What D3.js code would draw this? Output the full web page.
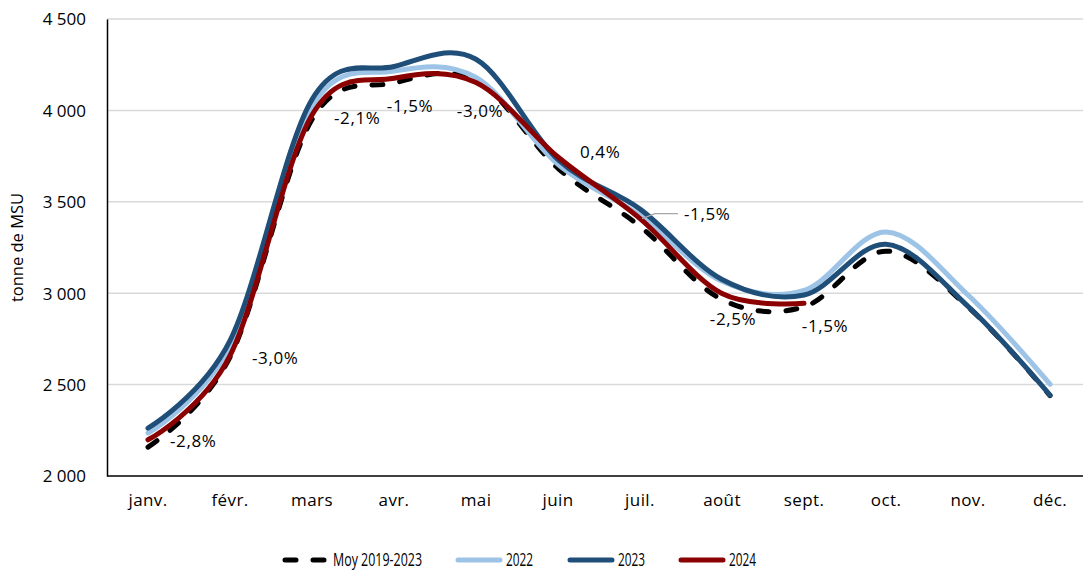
<!DOCTYPE html>
<html>
<head>
<meta charset="utf-8">
<script src="https://cdn.jsdelivr.net/npm/d3@7"></script>
<style>
  body { margin: 0; background: #fff; }
  text { font-family: "Open Sans", Lato, sans-serif; fill: #000; }
</style>
</head>
<body>
<script>
var width = 1083;
var height = 572;

var months = ['janv.', 'févr.', 'mars', 'avr.', 'mai', 'juin', 'juil.', 'août', 'sept.', 'oct.', 'nov.', 'déc.'];
var avg1923 = [2158, 2650, 3950, 4150, 4165, 3683, 3366, 2965, 2925, 3230, 2925, 2440];
var y2022 = [2235, 2710, 4020, 4215, 4180, 3705, 3425, 3065, 3015, 3335, 2990, 2502];
var y2023 = [2262, 2740, 4060, 4240, 4280, 3730, 3460, 3075, 2990, 3268, 2928, 2443];
var y2024 = [2198, 2658, 3975, 4176, 4152, 3745, 3408, 2998, 2945];
var pctLabels = ['-2,8%', '-3,0%', '-2,1%', '-1,5%', '-3,0%', '0,4%', '-1,5%', '-2,5%', '-1,5%'];
var yTicks = [2000, 2500, 3000, 3500, 4000, 4500];

var series = [
  { name: 'Moy 2019-2023', values: avg1923, color: '#000000', dash: '11,17' },
  { name: '2022', values: y2022, color: '#9dc3e6', dash: null },
  { name: '2023', values: y2023, color: '#1f4e79', dash: null },
  { name: '2024', values: y2024, color: '#8b0000', dash: null }
];

var margin = { left: 107, top: 19, bottom: 96 };
var plotRight = 1091;

var svg = d3.select('body').append('svg')
  .attr('width', width)
  .attr('height', height);

var x = d3.scaleBand().domain(months).range([margin.left, plotRight]);
var cx = function(m) { return x(m) + x.bandwidth() / 2; };
var y = d3.scaleLinear().domain([2000, 4500]).range([height - margin.bottom, margin.top]);

// gridlines
svg.append('g')
  .selectAll('line')
  .data(yTicks.slice(1))
  .enter().append('line')
  .attr('x1', margin.left).attr('x2', width)
  .attr('y1', function(d) { return y(d); })
  .attr('y2', function(d) { return y(d); })
  .attr('stroke', '#d9d9d9')
  .attr('stroke-width', 1.5);

// y axis
var yAxis = svg.append('g')
  .attr('transform', 'translate(' + margin.left + ',0)')
  .call(d3.axisLeft(y).tickValues(yTicks).tickSize(0).tickPadding(21)
    .tickFormat(function(d) { return d3.format(',')(d).replace(',', '\u00a0'); }));
yAxis.select('.domain').attr('stroke', '#000').attr('stroke-width', 1.5);
yAxis.selectAll('text').style('font-size', '17px').attr('dy', '0.35em');

// x axis
var xAxis = svg.append('g')
  .attr('transform', 'translate(0,' + y(2000) + ')')
  .call(d3.axisBottom(x).tickSize(0).tickPadding(18));
xAxis.select('.domain').attr('d', 'M' + margin.left + ',0H' + width)
  .attr('stroke', '#000').attr('stroke-width', 1.5);
xAxis.selectAll('text').style('font-size', '17px').style('letter-spacing', '0.4px');

// axis title
svg.append('text')
  .attr('transform', 'translate(23,' + ((y(4500) + y(2000)) / 2) + ') rotate(-90)')
  .attr('text-anchor', 'middle')
  .style('font-size', '16.5px')
  .text('tonne de MSU');

var line = d3.line()
  .x(function(d, i) { return cx(months[i]); })
  .y(function(d) { return y(d); })
  .curve(d3.curveCardinal.tension(0));

series.forEach(function(s) {
  svg.append('path')
    .datum(s.values)
    .attr('d', line)
    .attr('fill', 'none')
    .attr('stroke', s.color)
    .attr('stroke-width', 5)
    .attr('stroke-linecap', 'round')
    .attr('stroke-dasharray', s.dash);
});

// data labels (2024 vs 2023): offset from the 2024 point
var labelOffsets = [
  [22, 1, 'start'], [22, 2, 'start'], [22, 3, 'start'], [16, 28, 'middle'],
  [4, 28, 'middle'], [22, -5, 'start'], [44, -5, 'start'], [11, 25, 'middle'], [21, 23, 'middle']
];
var labelG = svg.append('g').style('font-size', '17px').style('letter-spacing', '0.6px');
pctLabels.forEach(function(t, i) {
  var px = cx(months[i]);
  var py = y(y2024[i]);
  var o = labelOffsets[i];
  if (i === 6) {
    labelG.append('path')
      .attr('d', 'M' + (px + 2) + ',' + py + 'L' + (px + 15) + ',' + (py - 5) + 'H' + (px + 38))
      .attr('fill', 'none').attr('stroke', '#a6a6a6').attr('stroke-width', 1.2);
  }
  labelG.append('text')
    .attr('x', px + o[0]).attr('y', py + o[1]).attr('dy', '0.35em')
    .attr('text-anchor', o[2])
    .text(t);
});

// legend
var legendX = [282, 455, 567, 678];
var legendW = [89, 27, 27, 27];
var legend = svg.append('g').attr('transform', 'translate(0,560)');
series.forEach(function(s, i) {
  var g = legend.append('g').attr('transform', 'translate(' + legendX[i] + ',0)');
  g.append('line')
    .attr('x1', 3).attr('x2', 45)
    .attr('stroke', s.color)
    .attr('stroke-width', 5)
    .attr('stroke-linecap', 'round')
    .attr('stroke-dasharray', s.dash);
  g.append('text')
    .attr('x', 51)
    .attr('dy', '0.36em')
    .style('font-size', '18px')
    .attr('textLength', legendW[i])
    .attr('lengthAdjust', 'spacingAndGlyphs')
    .text(s.name);
});
</script>
</body>
</html>
